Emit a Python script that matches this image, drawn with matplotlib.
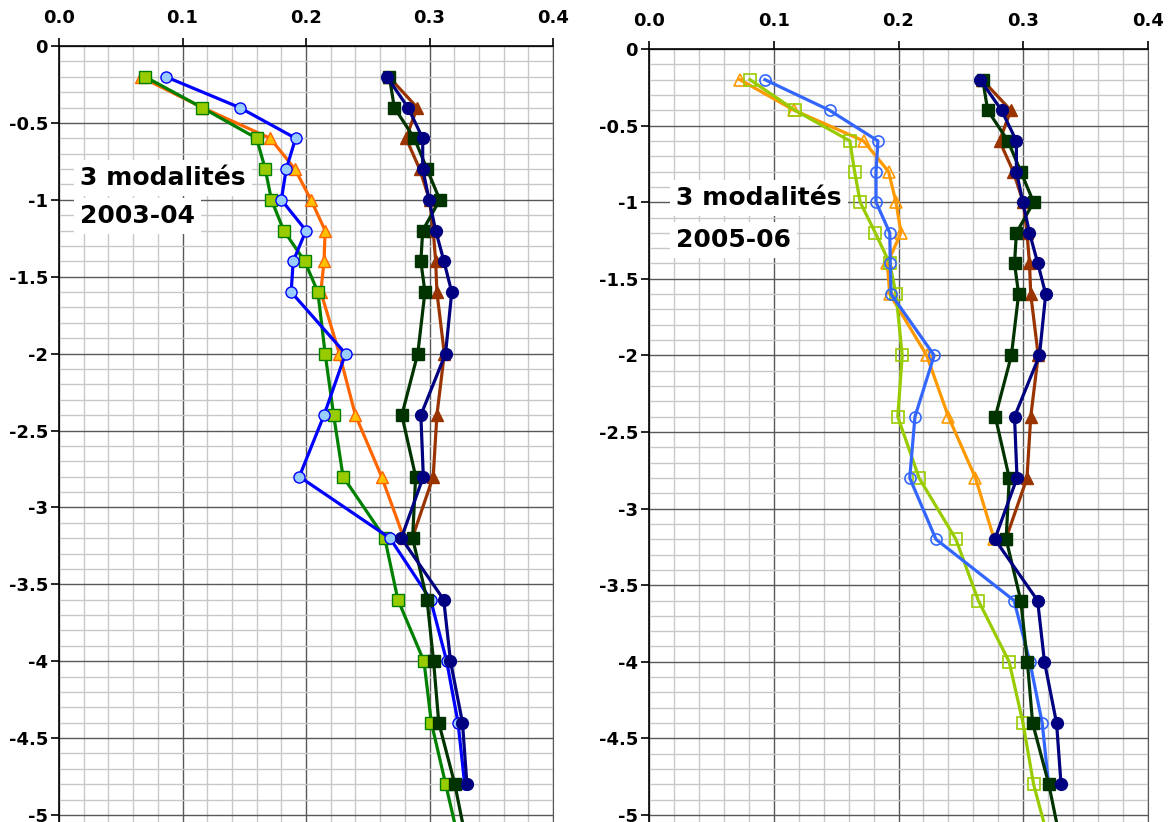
import matplotlib
matplotlib.use('Agg')
import matplotlib.pyplot as plt
from matplotlib.ticker import MultipleLocator, FuncFormatter

plt.rcParams['font.family'] = 'DejaVu Sans'
plt.rcParams['font.weight'] = 'bold'

# sampling depths (m); last one lies below the plotted range
depth = [-0.2, -0.4, -0.6, -0.8, -1.0, -1.2, -1.4, -1.6,
         -2.0, -2.4, -2.8, -3.2, -3.6, -4.0, -4.4, -4.8, -5.2]

# reference profiles, identical on both panels
ref_tri = [0.267, 0.290, 0.281, 0.292, 0.300, 0.303, 0.305, 0.306,
           0.312, 0.306, 0.303, 0.286]
ref_sq = [0.2675, 0.2715, 0.2877, 0.2980, 0.3083, 0.2945, 0.2930, 0.2963,
          0.2905, 0.2776, 0.2888, 0.2863, 0.2980, 0.3033, 0.3075, 0.3205,
          0.3305]
ref_ci = [0.2655, 0.2826, 0.2945, 0.2945, 0.2997, 0.3050, 0.3117, 0.3180,
          0.3130, 0.2930, 0.2950, 0.2772, 0.3115, 0.3170, 0.3267, 0.3303]

# 2003-04
a_tri = [0.066, 0.116, 0.171, 0.191, 0.204, 0.2155, 0.2146, 0.212,
         0.227, 0.240, 0.2612, 0.2793]
a_ci = [0.0865, 0.1462, 0.1916, 0.184, 0.180, 0.200, 0.1896, 0.188,
        0.232, 0.2146, 0.1946, 0.268, 0.3009, 0.3139, 0.3231, 0.3285]
a_sq = [0.0697, 0.1157, 0.160, 0.167, 0.172, 0.182, 0.199, 0.2096,
        0.2155, 0.2224, 0.230, 0.2638, 0.2744, 0.2955, 0.3015, 0.3131,
        0.3246]

# 2005-06
b_tri = [0.0728, 0.1164, 0.172, 0.192, 0.198, 0.202, 0.191, 0.193,
         0.2226, 0.240, 0.2617, 0.2767]
b_ci = [0.0929, 0.1447, 0.1835, 0.182, 0.182, 0.193, 0.1934, 0.194,
        0.2286, 0.2132, 0.209, 0.230, 0.2926, 0.3053, 0.3152, 0.3203]
b_sq = [0.0809, 0.117, 0.161, 0.1648, 0.1693, 0.1814, 0.193, 0.198,
        0.203, 0.1994, 0.2165, 0.246, 0.264, 0.2887, 0.2998, 0.3083,
        0.3215]

W, H = 1168., 822.
fig = plt.figure(figsize=(W/100, H/100), dpi=100)
ax_l = fig.add_axes([59/W, 0, 494/W, 776/H])
ax_r = fig.add_axes([649/W, 0, 499/W, 773/H])


def prof(ax, x, ms=8, **kw):
    ax.plot(x, depth[:len(x)], lw=2.3, ms=ms, **kw)


def setup(ax, ybot):
    ax.set_xlim(0, 0.4)
    ax.set_ylim(ybot, 0)
    ax.xaxis.set_major_locator(MultipleLocator(0.1))
    ax.xaxis.set_minor_locator(MultipleLocator(0.02))
    ax.yaxis.set_major_locator(MultipleLocator(0.5))
    ax.yaxis.set_minor_locator(MultipleLocator(0.1))
    ax.xaxis.set_major_formatter(FuncFormatter(lambda v, p: '%.1f' % v))
    ax.yaxis.set_major_formatter(
        FuncFormatter(lambda v, p: '%g' % (v if abs(v) > 1e-9 else 0)))
    ax.xaxis.tick_top()
    ax.tick_params(axis='x', which='major', direction='out', length=6,
                   width=1.2, pad=8, labelsize=13)
    ax.tick_params(axis='y', which='major', direction='out', length=6,
                   width=1.2, pad=2, labelsize=13)
    ax.tick_params(which='minor', length=0)
    ax.set_axisbelow(True)
    ax.grid(which='minor', color='#c8c8c8', lw=1.0)
    ax.grid(which='major', color='#585858', lw=1.0)
    ax.spines['bottom'].set_visible(False)
    ax.spines['right'].set_color('#585858')
    ax.spines['top'].set_linewidth(1.2)
    ax.spines['left'].set_linewidth(1.2)


setup(ax_l, -5.0455)
setup(ax_r, -5.0457)

# left panel, 2003-04
prof(ax_l, a_tri, c='#ff6600', marker='^', mfc='#ffc000', mec='#ff6600')
prof(ax_l, a_sq, c='#008000', marker='s', mfc='#99cc00', mec='#008000')
prof(ax_l, a_ci, c='#0000ff', marker='o', mfc='#99ccff', mec='#0000ff')

# right panel, 2005-06
prof(ax_r, b_tri, c='#ff9900', marker='^', mfc='none', mec='#ff9900', mew=1.2)
prof(ax_r, b_sq, c='#99cc00', marker='s', mfc='none', mec='#99cc00', mew=1.2)
prof(ax_r, b_ci, c='#3366ff', marker='o', mfc='none', mec='#3366ff', mew=1.2)

for ax in (ax_l, ax_r):
    prof(ax, ref_tri, c='#993300', marker='^')
    prof(ax, ref_sq, c='#003300', marker='s')
    prof(ax, ref_ci, c='#000080', marker='o', ms=8.5)

box = dict(boxstyle='square,pad=0.25', fc='white', ec='none')
ax_l.text(0.017, -0.904, '3 modalités', fontsize=18, fontweight='bold',
          va='baseline', bbox=box, zorder=5)
ax_l.text(0.017, -1.151, '2003-04', fontsize=18, fontweight='bold',
          va='baseline', bbox=box, zorder=5)
ax_r.text(0.0216, -1.018, '3 modalités', fontsize=18, fontweight='bold',
          va='baseline', bbox=box, zorder=5)
ax_r.text(0.0216, -1.292, '2005-06', fontsize=18, fontweight='bold',
          va='baseline', bbox=box, zorder=5)

plt.savefig('out.png', dpi=100)
